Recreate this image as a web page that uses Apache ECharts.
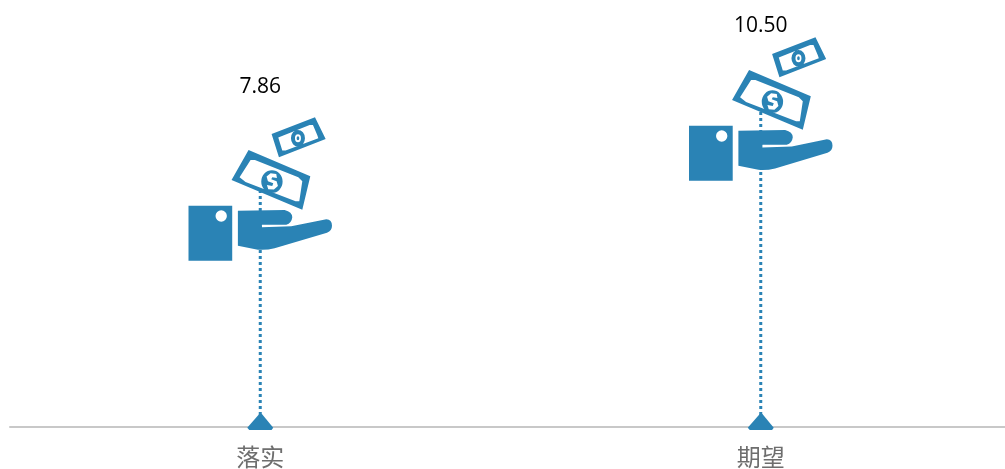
<!DOCTYPE html>
<html>
<head>
<meta charset="utf-8">
<style>
html,body{margin:0;padding:0;background:#fff;}
#main{width:1005px;height:469px;}
</style>
<script src="https://cdn.jsdelivr.net/npm/echarts@6/dist/echarts.min.js"></script>
</head>
<body>
<div id="main"></div>
<script>
var categories = ['落实', '期望'];
var values = [7.86, 10.50];
var labels = ['7.86', '10.50'];

var blue = '#2a83b5';

// hand + two banknotes, holes are drawn with reverse winding
var iconPath = 'path://' +
  // cuff
  'M57,405 L188,405 L188,570 L57,570 Z ' +
  'M155,419 A17,17 0 1 0 155,453 A17,17 0 1 0 155,419 Z ' +
  // hand
  'M205,420 L345,418 Q368,424 368,440 Q366,458 350,462 L277,462 L277,470 L365,467 L470,446 Q487,447 487,465 Q487,480 472,486 ' +
  'L315,533 Q290,539 265,537 L205,525 Z ' +
  // big note
  'M237,238 L422,317 L398,417 L186,328 Z ' +
  'M243,268 L210,320 L228,334 L378,392 L389,392 L398,332 L386,320 L256,268 Z ' +
  'M307,299 A32,34 0 1 1 307,367 A32,34 0 1 1 307,299 Z ' +
  'M320,310 L303,308 L291,318 L295,332 L311,338 L308,346 L292,343 L296,356 L313,357 L325,346 L321,332 L305,326 L308,320 L322,322 Z ' +
  // small note
  'M436,140 L468,205 L328,260 L306,190 Z ' +
  'M420,163 L326,201 L338,240 L348,240 L446,203 L443,194 L430,163 Z ' +
  'M385,178 A21,25 0 1 1 385,228 A21,25 0 1 1 385,178 Z ' +
  'M385,191 A9,12 0 1 0 385,215 A9,12 0 1 0 385,191 Z ' +
  'M385,197 A4,6 0 1 1 385,209 A4,6 0 1 1 385,197 Z';

var markerPath = 'path://M178,72 L186,72 L220,113 L215,120 L148,120 L142,113 Z';

// label height above the icon centre differs per column in the source
var labelRise = [102, 83];

var chart = echarts.init(document.getElementById('main'));
chart.setOption({
  animation: false,
  backgroundColor: '#fff',
  grid: { left: 10, top: 3, width: 1001, height: 424, outerBoundsMode: 'none' },
  xAxis: {
    type: 'category',
    data: categories,
    axisLine: { lineStyle: { color: '#c8c8c8', width: 2 } },
    axisTick: { show: false },
    axisLabel: {
      color: '#6e6e6e',
      fontFamily: 'Noto Sans CJK SC',
      fontSize: 24,
      margin: 18
    }
  },
  yAxis: { type: 'value', min: 0, max: 14, show: false, splitLine: { show: false } },
  series: [
    {
      // dotted stem from the axis up to the value
      type: 'custom',
      z: 1,
      silent: true,
      data: values,
      renderItem: function (params, api) {
        var a = api.coord([params.dataIndex, 0]);
        var b = api.coord([params.dataIndex, api.value(1)]);
        return {
          type: 'line',
          shape: { x1: a[0], y1: a[1], x2: b[0], y2: b[1] },
          style: { stroke: blue, lineWidth: 3, lineDash: [3, 3], fill: null }
        };
      },
      encode: { x: 0, y: 1 }
    },
    {
      type: 'scatter',
      z: 3,
      silent: true,
      symbol: markerPath,
      symbolSize: [26, 16],
      symbolOffset: [0, -5],
      itemStyle: { color: blue, opacity: 1 },
      data: values.map(function () { return 0; })
    },
    {
      type: 'scatter',
      z: 4,
      silent: true,
      symbol: iconPath,
      symbolSize: [143.5, 143.5],
      itemStyle: { color: blue, opacity: 1 },
      data: values.map(function (v, i) {
        return {
          value: v,
          label: {
            show: true,
            position: 'inside',
            offset: [0, -labelRise[i]],
            formatter: labels[i],
            color: '#000',
            fontFamily: 'Open Sans',
            fontSize: 21
          }
        };
      })
    }
  ]
});
</script>
</body>
</html>
